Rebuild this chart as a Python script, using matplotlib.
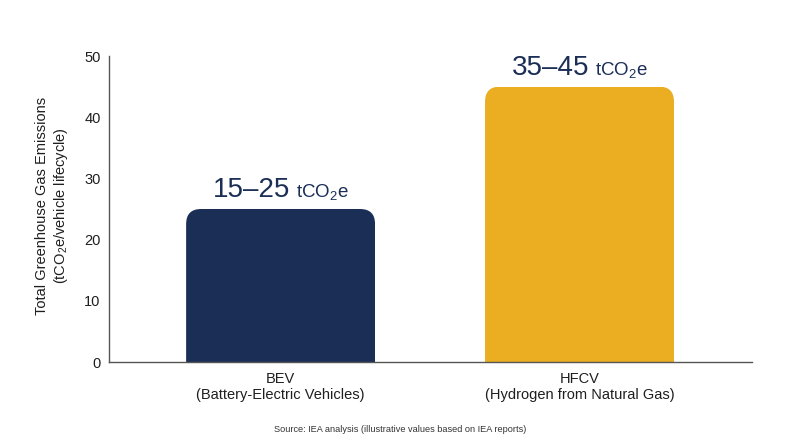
"""Lifecycle GHG emissions: BEV vs hydrogen fuel cell vehicles."""

import matplotlib
matplotlib.use("Agg")
import matplotlib.pyplot as plt
from matplotlib.path import Path
from matplotlib.patches import PathPatch
from matplotlib.offsetbox import TextArea, HPacker, AnnotationBbox


categories = ["BEV\n(Battery-Electric Vehicles)", "HFCV\n(Hydrogen from Natural Gas)"]
low_values = [15, 35]
high_values = [25, 45]
range_units = "tCO$_2$e"
y_ticks = [0, 10, 20, 30, 40, 50]

NAVY = "#1B2F56"
GOLD = "#EBAE22"
TEXT = "#1F1F1F"

plt.rcParams.update({
    "font.family": ["Liberation Sans", "DejaVu Sans"],
    "mathtext.fontset": "custom",
    "mathtext.rm": "Liberation Sans",
    "mathtext.it": "Liberation Sans:italic",
    "mathtext.bf": "Liberation Sans:bold",
})


def rounded_top(x0, x1, h, rx, ry):
    verts = [(x0, 0), (x0, h - ry), (x0, h), (x0 + rx, h), (x1 - rx, h),
             (x1, h), (x1, h - ry), (x1, 0), (x0, 0)]
    codes = [Path.MOVETO, Path.LINETO, Path.CURVE3, Path.CURVE3, Path.LINETO,
             Path.CURVE3, Path.CURVE3, Path.LINETO, Path.CLOSEPOLY]
    return Path(verts, codes)


def main() -> None:
    fig = plt.figure(figsize=(8, 4.47), dpi=100)
    ax = fig.add_axes([109 / 800, 1 - 362 / 447, 643 / 800, 306 / 447])

    x = list(range(len(categories)))
    bars = ax.bar(x, high_values, width=0.632, color=[NAVY, GOLD], zorder=2)
    ax.set_xlim(-0.574, 1.577)
    ax.set_ylim(0, 50)

    # round the top corners (about 15 px)
    bbox = ax.get_window_extent()
    px_x = bbox.width / (ax.get_xlim()[1] - ax.get_xlim()[0])
    px_y = bbox.height / (ax.get_ylim()[1] - ax.get_ylim()[0])
    r = 15
    for p in bars:
        path = rounded_top(p.get_x(), p.get_x() + p.get_width(), p.get_height(), r / px_x, r / px_y)
        clip = PathPatch(path, transform=ax.transData, visible=False)
        ax.add_patch(clip)
        p.set_clip_path(clip)

    for xi, lo, hi in zip(x, low_values, high_values):
        big = TextArea(f"{lo}\u2013{hi}", textprops=dict(fontsize=20, color=NAVY))
        small = TextArea(range_units, textprops=dict(fontsize=13.5, color=NAVY))
        pack = HPacker(children=[big, small], align="baseline", pad=0, sep=4)
        ab = AnnotationBbox(pack, (xi, hi), xybox=(0, 4), xycoords="data",
                            boxcoords="offset points", box_alignment=(0.5, 0),
                            frameon=False, pad=0)
        ax.add_artist(ab)

    ax.spines[["top", "right"]].set_visible(False)
    for side in ["left", "bottom"]:
        ax.spines[side].set_color("#555555")
        ax.spines[side].set_linewidth(1.0)
    ax.tick_params(axis="both", length=0, labelsize=10.5, colors=TEXT)
    ax.tick_params(axis="y", pad=6)
    ax.tick_params(axis="x", pad=7)
    ax.set_yticks(y_ticks)
    ax.set_xticks(x, labels=categories)

    ax.set_ylabel("Total Greenhouse Gas Emissions\n(tCO$_2$e/vehicle lifecycle)",
                  fontsize=10.5, color=TEXT, linespacing=1.25)
    ax.yaxis.set_label_coords(-0.061, 0.51)

    fig.text(0.5, 1 - 429 / 447, "Source: IEA analysis (illustrative values based on IEA reports)",
             ha="center", va="center", fontsize=6.6, color="#333333")

    fig.savefig("out.png", dpi=100)
    plt.close(fig)


if __name__ == "__main__":
    main()
